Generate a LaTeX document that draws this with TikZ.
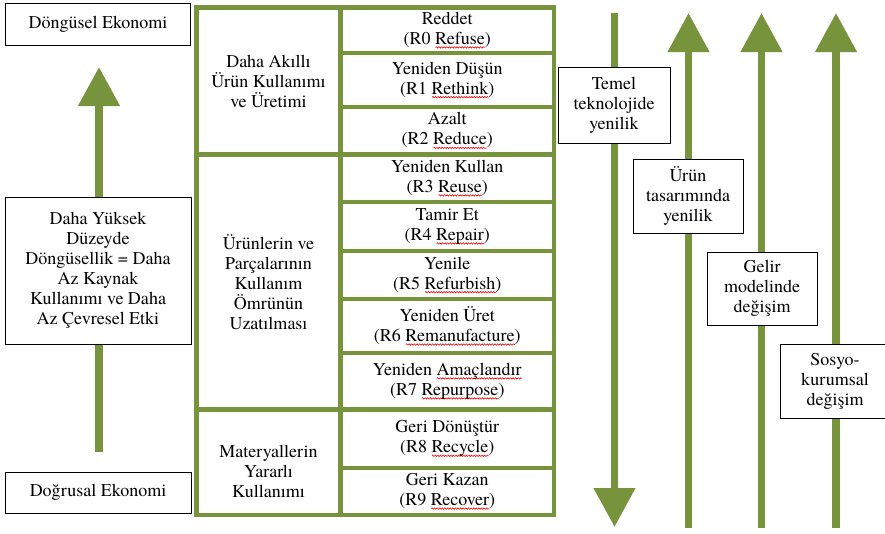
\documentclass[tikz,border=0pt]{standalone}
\usepackage{fontspec}
\setmainfont{texgyretermes}[Extension=.otf, UprightFont=*-regular, BoldFont=*-bold, ItalicFont=*-italic, BoldItalicFont=*-bolditalic]
\usetikzlibrary{arrows.meta}
\usetikzlibrary{decorations.pathmorphing}

\definecolor{olivegreen}{RGB}{119,147,60}
\newsavebox{\spellbox}
\newcommand{\spell}[1]{\sbox{\spellbox}{#1}\rlap{\raisebox{-4pt}{\tikz\draw[red, line width=0.6pt, decorate, decoration={snake, amplitude=0.7pt, segment length=2.6pt}] (0pt,0pt) -- (\wd\spellbox,0pt);}}\usebox{\spellbox}}

\tikzset{
    rcell/.style={draw=olivegreen, line width=4.5pt, minimum width=213.5pt, inner sep=0pt, align=center},
    lcell/.style={draw=olivegreen, line width=4.5pt, minimum width=144pt, inner sep=0pt, align=center},
    tagbox/.style={draw=black, fill=white, line width=0.9pt, inner sep=0pt, align=center},
    bigarrow/.style={olivegreen, line width=7.5pt, -{Triangle[width=40pt, length=39pt]}}
}

\begin{document}
\begin{tikzpicture}[x=1pt, y=-1pt, font=\rmfamily\fontsize{18}{20}\selectfont]
            \useasboundingbox (0,0) rectangle (885,533);
            % arrows
            \coordinate (lfrom) at (99,452);
            \coordinate (lto) at (99,67);
            \coordinate (afrom) at (614.5,13);
            \coordinate (ato) at (614.5,527);
            \coordinate (bfrom) at (688.5,528);
            \coordinate (bto) at (688.5,13);
            \coordinate (cfrom) at (761.5,528);
            \coordinate (cto) at (761.5,13);
            \coordinate (dfrom) at (836,528);
            \coordinate (dto) at (836,13);
            \draw[bigarrow] (lfrom) -- (lto);
            \draw[bigarrow] (afrom) -- (ato);
            \draw[bigarrow] (bfrom) -- (bto);
            \draw[bigarrow] (cfrom) -- (cto);
            \draw[bigarrow] (dfrom) -- (dto);

            % left column
            \node[tagbox, minimum width=185pt, minimum height=42pt] (circular) at (98,24) {Döngüsel Ekonomi};
            \node[tagbox, minimum width=186pt, minimum height=147pt] (higher) at (98,270.5)
                {Daha Yüksek\\Düzeyde\\Döngüsellik = Daha\\Az Kaynak\\Kullanımı ve Daha\\Az Çevresel Etki};
            \node[tagbox, minimum width=186pt, minimum height=41pt] (linear) at (98,492.5) {Doğrusal Ekonomi};

            % table
            \node[lcell, minimum height=147pt] (smart) at (268.5,81) {Daha Akıllı\\Ürün Kullanımı\\ve Üretimi};
            \node[lcell, minimum height=255pt] (extend) at (268.5,282) {Ürünlerin ve\\Parçalarının\\Kullanım\\Ömrünün\\Uzatılması};
            \node[lcell, minimum height=105.5pt] (materials) at (268.5,462.25) {};
            \node[align=center] at ([yshift=-9pt]materials.center) {Materyallerin\\Yararlı\\Kullanımı};

            \node[rcell, minimum height=45.5pt] (r0) at (447.25,30.25) {Reddet\\(R0 \spell{Refuse})};
            \node[rcell, minimum height=54pt] (r1) at (447.25,80) {Yeniden Düşün\\(R1 \spell{Rethink})};
            \node[rcell, minimum height=47.5pt] (r2) at (447.25,130.75) {Azalt\\(R2 \spell{Reduce})};
            \node[rcell, minimum height=47.5pt] (r3) at (447.25,178.25) {Yeniden Kullan\\(R3 \spell{Reuse})};
            \node[rcell, minimum height=49pt] (r4) at (447.25,226.5) {Tamir Et\\(R4 \spell{Repair})};
            \node[rcell, minimum height=48pt] (r5) at (447.25,275) {Yenile\\(R5 \spell{Refurbish})};
            \node[rcell, minimum height=54pt] (r6) at (447.25,326) {Yeniden Üret\\(R6 \spell{Remanufacture})};
            \node[rcell, minimum height=56.5pt] (r7) at (447.25,381.25) {Yeniden \spell{Amaçlandır}\\(R7 \spell{Repurpose})};
            \node[rcell, minimum height=58.5pt] (r8) at (447.25,438.75) {Geri Dönüştür\\(R8 \spell{Recycle})};
            \node[rcell, minimum height=47pt] (r9) at (447.25,491.5) {Geri Kazan\\(R9 \spell{Recover})};

            % labels on the arrows
            \node[tagbox, minimum width=112pt, minimum height=76pt] (tech) at (614,105) {Temel\\teknolojide\\yenilik};
            \node[tagbox, minimum width=110pt, minimum height=74pt] (design) at (688,196) {Ürün\\tasarımında\\yenilik};
            \node[tagbox, minimum width=110pt, minimum height=73pt] (revenue) at (762,288.5) {Gelir\\modelinde\\değişim};
            \node[tagbox, minimum width=110pt, minimum height=74pt] (social) at (835,381) {Sosyo-\\kurumsal\\değişim};
        \end{tikzpicture}
\end{document}
